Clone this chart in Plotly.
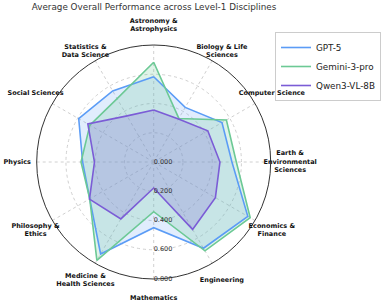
import plotly.graph_objects as go

categories = [
    "Astronomy &<br>Astrophysics", "Biology & Life<br>Sciences", "Computer Science",
    "Earth &<br>Environmental<br>Sciences", "Economics &<br>Finance", "Engineering",
    "Mathematics", "Medicine &<br>Health Sciences", "Philosophy &<br>Ethics",
    "Physics", "Social Sciences", "Statistics &<br>Data Science",
]
gpt5 = [0.583, 0.431, 0.539, 0.535, 0.743, 0.681, 0.449, 0.726, 0.505, 0.486, 0.592, 0.561]
gemini3 = [0.682, 0.344, 0.574, 0.565, 0.762, 0.701, 0.340, 0.777, 0.505, 0.497, 0.504, 0.500]
qwen3 = [0.356, 0.339, 0.427, 0.453, 0.487, 0.532, 0.178, 0.449, 0.507, 0.405, 0.520, 0.364]
radial_ticks = [0.0, 0.2, 0.4, 0.6, 0.8]
radial_labels = ["0.000", "0.200", "0.400", "0.600", "0.800"]

series = [
    ("GPT-5", gpt5, "#5b9cf6", "rgba(91,156,246,0.18)"),
    ("Gemini-3-pro", gemini3, "#6cc995", "rgba(108,201,149,0.22)"),
    ("Qwen3-VL-8B", qwen3, "#7b5cd6", "rgba(123,92,214,0.22)"),
]

fig = go.Figure()
theta_closed = categories + categories[:1]
for name, vals, color, fill in series:
    fig.add_trace(go.Scatterpolar(
        r=vals + vals[:1], theta=theta_closed, mode="lines", showlegend=False,
        line=dict(color=color, width=0), fill="toself", fillcolor=fill, hoverinfo="skip",
    ))
for name, vals, color, fill in series:
    fig.add_trace(go.Scatterpolar(
        r=vals + vals[:1], theta=theta_closed, name=name, mode="lines",
        line=dict(color=color, width=1.6),
    ))

# category and radial labels on an overlaid polar sharing the same radial scale
label_pos = ["bottom center" if c.startswith(("Biology", "Statistics")) else "middle center"
             for c in categories]
fig.add_trace(go.Scatterpolar(
    r=[0.933] * len(categories), theta=categories, mode="text", text=categories,
    textposition=label_pos,
    textfont=dict(family="DejaVu Sans", size=6.5, color="#111", weight="bold"),
    showlegend=False, hoverinfo="skip", subplot="polar2",
))
fig.add_trace(go.Scatterpolar(
    r=radial_ticks, theta=["Mathematics"] * len(radial_ticks), mode="text",
    text=radial_labels, textposition="middle right",
    textfont=dict(family="DejaVu Sans", size=6.5, color="#333"),
    showlegend=False, hoverinfo="skip", subplot="polar2",
))

W, H = 381, 307
cx, cy, R = 153.7, 162, 117
R2 = 144
scale = 0.8 / R
fig.update_layout(
    width=W, height=H,
    margin=dict(l=0, r=0, t=0, b=0, autoexpand=False),
    paper_bgcolor="white",
    font=dict(family="DejaVu Sans", color="#222"),
    title=dict(text="Average Overall Performance across Level-1 Disciplines",
               x=154 / W, xanchor="center", y=1 - 7 / H, yanchor="middle",
               font=dict(size=8.8, color="#333")),
    polar=dict(
        domain=dict(x=[(cx - R) / W, (cx + R) / W], y=[(H - cy - R) / H, (H - cy + R) / H]),
        bgcolor="white",
        radialaxis=dict(range=[0, 0.8], tickvals=radial_ticks, showticklabels=False,
                        angle=-90, showline=False, ticks="",
                        gridcolor="#d0d0d0", griddash="dot", gridwidth=0.8),
        angularaxis=dict(direction="clockwise", rotation=90, showticklabels=False,
                         ticks="", showline=True, linecolor="#333", linewidth=1,
                         gridcolor="#d0d0d0", griddash="dot", gridwidth=0.8),
    ),
    polar2=dict(
        domain=dict(x=[(cx - R2) / W, (cx + R2) / W], y=[(H - cy - R2) / H, (H - cy + R2) / H]),
        bgcolor="rgba(0,0,0,0)",
        radialaxis=dict(range=[0, R2 * scale], visible=False, showgrid=False),
        angularaxis=dict(direction="clockwise", rotation=90, visible=False, showgrid=False,
                         categoryarray=categories, categoryorder="array"),
    ),
    legend=dict(x=275 / W, xanchor="left", y=1 - 32 / H, yanchor="top",
                bordercolor="#cccccc", borderwidth=1, bgcolor="rgba(255,255,255,0)",
                font=dict(size=8.8, color="#222"), itemwidth=30, tracegroupgap=0),
)
fig.write_html("out.html", post_script="document.body.style.margin='0px';",
               config={"displayModeBar": False})
